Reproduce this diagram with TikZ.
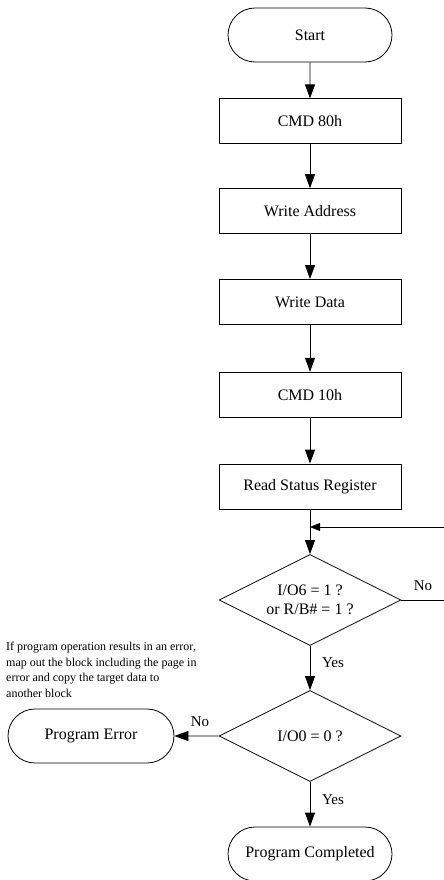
\documentclass[tikz,border=0pt]{standalone}
\usepackage{fontspec}
\setmainfont{Liberation Serif}
\usetikzlibrary{shapes.geometric,shapes.misc,arrows.meta,positioning}

\begin{document}
\begin{tikzpicture}[x=1pt, y=-1pt,
    termnode/.style={
      rounded rectangle, draw=black, line width=0.8pt,
      minimum width=164pt, minimum height=54pt, inner sep=0pt,
      font=\fontsize{16}{19}\selectfont
    },
    procnode/.style={
      rectangle, draw=black, line width=0.8pt,
      minimum width=182pt, minimum height=45pt, inner sep=0pt,
      font=\fontsize{16}{19}\selectfont
    },
    decnode/.style={
      diamond, draw=black, line width=0.8pt, aspect=2,
      minimum width=182pt, minimum height=91pt, inner sep=0pt,
      align=center, font=\fontsize{16}{19}\selectfont
    },
    lbl/.style={font=\fontsize{15}{18}\selectfont, inner sep=0pt},
    arr/.style={-{Triangle[length=14pt, width=10pt]}, line width=0.8pt, draw=black},
    backarr/.style={-{Triangle[length=10pt, width=8pt]}, line width=0.8pt, draw=black}
  ]
    \useasboundingbox (0,0) rectangle (444,880);

    \node[termnode] (start) at (310,35) {Start};
    \node[procnode, below=36pt of start] (cmd80) {CMD 80h};
    \node[procnode, below=44pt of cmd80] (addr) {Write Address};
    \node[procnode, below=45pt of addr] (data) {Write Data};
    \node[procnode, below=47pt of data] (cmd10) {CMD 10h};
    \node[procnode, below=46pt of cmd10] (status) {Read Status Register};
    \node[decnode] (rdy) at (310,600) {I/O6 = 1 ?\\or R/B\# = 1 ?};
    \node[decnode] (pass) at (310,736) {I/O0 = 0 ?};
    \node[termnode, minimum width=166pt] (err) at (91,736) {Program Error};
    \node[termnode] (done) at (310,854) {Program Completed};

    \node[anchor=north west, inner sep=0pt, align=left,
      font=\fontsize{12}{15.5}\selectfont] (note) at (6,642)
      {If program operation results in an error,\\map out the block including the page in\\error and copy the target data to\\another block};

    \coordinate (join) at (310,527);
    \coordinate (loopA) at (448,600);
    \coordinate (loopB) at (448,527);

    \draw[arr] (start) -- (cmd80);
    \draw[arr] (cmd80) -- (addr);
    \draw[arr] (addr) -- (data);
    \draw[arr] (data) -- (cmd10);
    \draw[arr] (cmd10) -- (status);
    \draw[arr] (status) -- (rdy);
    \draw[line width=0.8pt] (rdy.east) -- (loopA) -- (loopB);
    \draw[backarr] (loopB) -- (join);
    \draw[arr] (rdy) -- (pass);
    \draw[arr] (pass.west) -- (err);
    \draw[arr] (pass) -- (done);

    \node[lbl] at (423,586) {No};
    \node[lbl] at (333,663) {Yes};
    \node[lbl] at (200,722) {No};
    \node[lbl] at (333,800) {Yes};
  \end{tikzpicture}
\end{document}
